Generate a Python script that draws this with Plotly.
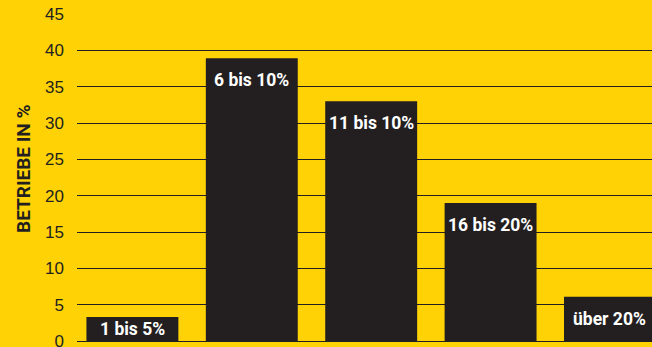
import plotly.graph_objects as go

categories = ["1 bis 5%", "6 bis 10%", "11 bis 10%", "16 bis 20%", "über 20%"]
values = [3.3, 38.9, 33.0, 19.0, 6.1]
y_ticks = [0, 5, 10, 15, 20, 25, 30, 35, 40, 45]
y_title = "BETRIEBE IN %"

BG = "#FFD205"
DARK = "#231F20"
W, H = 652, 347
M_L, M_R, M_T, M_B = 77, 0, 14, 6
Y_MAX = 45
plot_h = H - M_T - M_B
px_per_unit = plot_h / Y_MAX

xs = list(range(len(categories)))

fig = go.Figure()
fig.add_trace(go.Bar(
    x=xs, y=values,
    marker=dict(color=DARK, line=dict(width=0)),
    hoverinfo="skip",
))

label_font = dict(family="Roboto, Arial", size=17.5, color="white")
for x, v, c in zip(xs, values, categories):
    bar_px = v * px_per_unit
    shift = -min(22, bar_px / 2)
    fig.add_annotation(
        x=x, y=v, xref="x", yref="y",
        text=f"<b>{c}</b>", showarrow=False,
        yanchor="middle", xanchor="center",
        yshift=shift, font=label_font,
    )

fig.add_annotation(
    x=(23 - M_L) / (W - M_L - M_R), y=(H - M_B - 169) / plot_h,
    xref="paper", yref="paper", text=f"<b>{y_title}</b>",
    textangle=-90, showarrow=False, xanchor="center", yanchor="middle",
    font=dict(family="Roboto, Arial", size=19, color=DARK),
)

fig.update_layout(
    width=W, height=H,
    margin=dict(l=M_L, r=M_R, t=M_T, b=M_B, pad=0, autoexpand=False),
    paper_bgcolor=BG, plot_bgcolor=BG,
    bargap=0.23,
    showlegend=False,
    xaxis=dict(range=[-0.464, 4.352], showgrid=False, zeroline=False,
               showticklabels=False, ticks="", showline=False, fixedrange=True,
               automargin=False),
    yaxis=dict(range=[0, Y_MAX], tickvals=y_ticks, showgrid=True,
               gridcolor=DARK, gridwidth=1.3, zeroline=True, zerolinecolor=DARK,
               zerolinewidth=1.3, showline=False, ticks="",
               ticklabelstandoff=12, ticklabeloverflow="allow", automargin=False,
               tickfont=dict(family="Liberation Sans, Arial", size=17, color=DARK),
               fixedrange=True),
)

fig.write_html("out.html", config={"displayModeBar": False})
